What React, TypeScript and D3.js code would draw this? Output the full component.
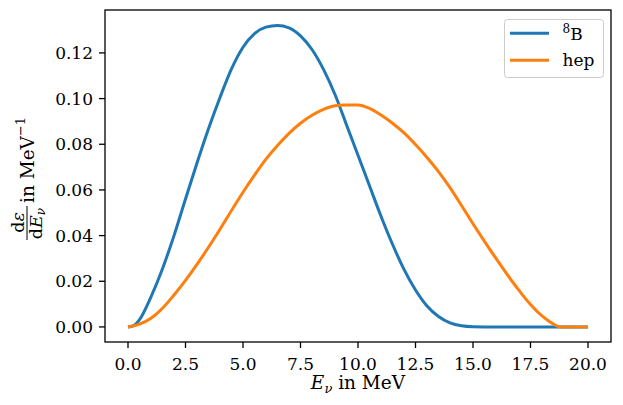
import React from "react";
import * as d3 from "d3";

// 8B spectrum (MeV, 1/MeV)
const energyB8 = [
  0, 0.25, 0.5, 1, 1.5, 2, 2.5, 3, 3.5, 4, 4.5, 5, 5.5, 6, 6.5, 7, 7.5, 8, 8.5,
  9, 9.5, 10, 10.5, 11, 11.5, 12, 12.5, 13, 13.5, 14, 14.5, 15, 16, 17, 18, 19,
  20,
];
const fluxB8 = [
  0, 0.0006, 0.0032, 0.0132, 0.0255, 0.04, 0.056, 0.0718, 0.0868, 0.1005,
  0.113, 0.1225, 0.1285, 0.1313, 0.132, 0.131, 0.1275, 0.1215, 0.1128, 0.1018,
  0.0885, 0.0752, 0.0618, 0.0485, 0.0362, 0.0252, 0.0162, 0.0092, 0.0046,
  0.0018, 0.0005, 0.0001, 0, 0, 0, 0, 0,
];

// hep spectrum
const energyHep = [
  0, 0.5, 1, 1.5, 2, 2.5, 3, 3.5, 4, 4.5, 5, 5.5, 6, 6.5, 7, 7.5, 8, 8.5, 9,
  9.4, 10, 10.5, 11, 11.5, 12, 12.5, 13, 13.5, 14, 14.5, 15, 15.5, 16, 16.5, 17,
  17.5, 18, 18.5, 18.77, 19, 19.5, 20,
];
const fluxHep = [
  0, 0.0012, 0.0038, 0.0082, 0.014, 0.0204, 0.0274, 0.0349, 0.0428, 0.051,
  0.059, 0.0665, 0.0735, 0.0795, 0.0848, 0.0892, 0.0927, 0.0953, 0.0969,
  0.0972, 0.0972, 0.0957, 0.0928, 0.0892, 0.085, 0.0799, 0.0742, 0.068,
  0.0610, 0.0532, 0.0452, 0.0375, 0.03, 0.0228, 0.016, 0.0098, 0.0048, 0.0012,
  0, 0, 0, 0,
];

const xTicks = [0, 2.5, 5, 7.5, 10, 12.5, 15, 17.5, 20];
const yTicks = [0, 0.02, 0.04, 0.06, 0.08, 0.1, 0.12];

const W = 623;
const H = 405;
const left = 105;
const right = 611;
const top = 10;
const bottom = 342;
const font = "'DejaVu Serif', serif";

const BLUE = "#1f77b4";
const ORANGE = "#ff7f0e";

export default function App() {
  const x = d3.scaleLinear().domain([-1, 21]).range([left, right]);
  const y = d3.scaleLinear().domain([-0.0066, 0.1388]).range([bottom, top]);

  const b8 = energyB8.map((e, i) => [e, fluxB8[i]] as [number, number]);
  const hep = energyHep.map((e, i) => [e, fluxHep[i]] as [number, number]);

  const line = d3
    .line<[number, number]>()
    .x((d) => x(d[0]))
    .y((d) => y(d[1]))
    .curve(d3.curveMonotoneX);

  const fx = d3.format(".1f");
  const fy = d3.format(".2f");

  const midY = (top + bottom) / 2;

  return (
    <svg
      width={W}
      height={H}
      style={{ position: "absolute", left: 0, top: 0, background: "#fff" }}
      fontFamily={font}
    >
      <rect x={0} y={0} width={W} height={H} fill="#fff" />

      {/* curves */}
      <path d={line(b8) || ""} fill="none" stroke={BLUE} strokeWidth={3} />
      <path d={line(hep) || ""} fill="none" stroke={ORANGE} strokeWidth={3} />

      {/* frame */}
      <rect
        x={left}
        y={top}
        width={right - left}
        height={bottom - top}
        fill="none"
        stroke="#000"
        strokeWidth={1.3}
      />

      {/* x axis */}
      {xTicks.map((t) => (
        <g key={"x" + t}>
          <line x1={x(t)} x2={x(t)} y1={bottom} y2={bottom + 6} stroke="#000" strokeWidth={1.3} />
          <text x={x(t)} y={369.5} fontSize={17} textAnchor="middle">
            {fx(t)}
          </text>
        </g>
      ))}
      <text x={(left + right) / 2} y={389} fontSize={18.5} textAnchor="middle">
        <tspan fontStyle="italic">E</tspan>
        <tspan fontStyle="italic" fontSize={13} dy={4}>
          ν
        </tspan>
        <tspan dy={-4}> in MeV</tspan>
      </text>

      {/* y axis */}
      {yTicks.map((t) => (
        <g key={"y" + t}>
          <line x1={left - 6} x2={left} y1={y(t)} y2={y(t)} stroke="#000" strokeWidth={1.3} />
          <text x={93} y={y(t) + 6.2} fontSize={17} textAnchor="end">
            {fy(t)}
          </text>
        </g>
      ))}
      <g transform={`translate(34.3, ${midY}) rotate(-90)`}>
        {/* fraction d eps / d E_nu */}
        <text x={-46.5} y={-10} fontSize={17.5} textAnchor="middle">
          d<tspan fontStyle="italic">ε</tspan>
        </text>
        <line x1={-64} x2={-30} y1={-7.3} y2={-7.3} stroke="#000" strokeWidth={1} />
        <text x={-47.5} y={7.5} fontSize={17.5} textAnchor="middle">
          d<tspan fontStyle="italic">E</tspan>
          <tspan fontStyle="italic" fontSize={12} dy={3}>
            ν
          </tspan>
        </text>
        <text x={-27} y={0} fontSize={18.5}>
          in MeV
          <tspan fontSize={13} dy={-9}>
            −1
          </tspan>
        </text>
      </g>

      {/* legend */}
      <rect
        x={504.5}
        y={19.5}
        width={99}
        height={58}
        rx={3}
        fill="#fff"
        fillOpacity={0.8}
        stroke="#ccc"
        strokeWidth={1}
      />
      <line x1={510} x2={549} y1={33.3} y2={33.3} stroke={BLUE} strokeWidth={3} />
      <line x1={510} x2={549} y1={60.3} y2={60.3} stroke={ORANGE} strokeWidth={3} />
      <text x={562.5} y={39.5} fontSize={17}>
        <tspan fontSize={12} dy={-7}>
          8
        </tspan>
        <tspan dy={7}>B</tspan>
      </text>
      <text x={562.5} y={66} fontSize={17}>
        hep
      </text>
    </svg>
  );
}
